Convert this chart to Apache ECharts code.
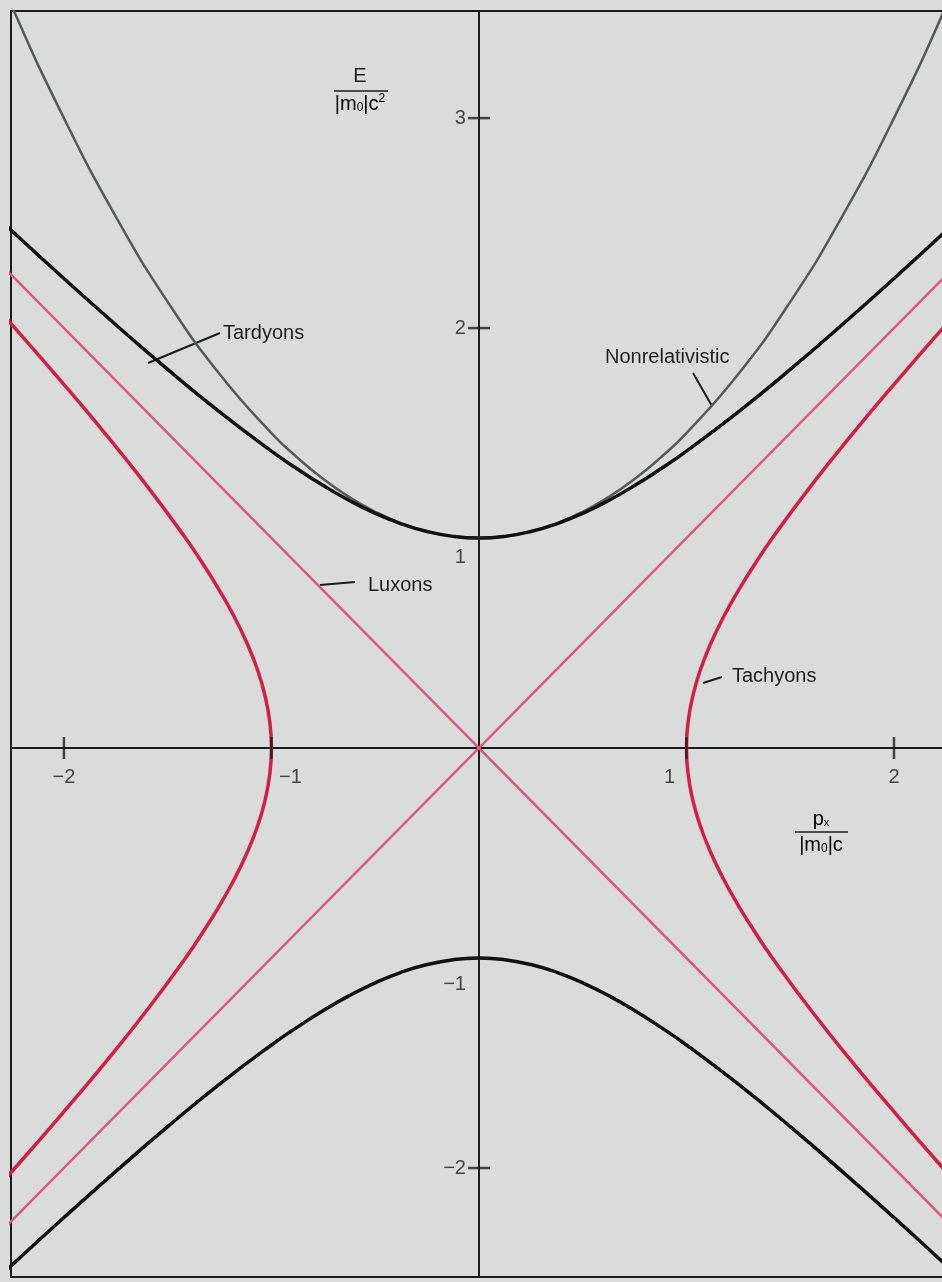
<!DOCTYPE html>
<html>
<head>
<meta charset="utf-8">
<script src="https://cdn.jsdelivr.net/npm/echarts@6/dist/echarts.min.js"></script>
<style>
  html, body { margin: 0; padding: 0; background: #d9dcdb; }
  #chart { width: 942px; height: 1282px; }
</style>
</head>
<body>
<div id="chart"></div>
<script>
// momentum grid (p / |m0|c) and energies
const pGrid = [-2.5, -2.25, -2, -1.75, -1.5, -1.25, -1, -0.875, -0.75, -0.625, -0.5, -0.375, -0.25, -0.125, 0,
  0.125, 0.25, 0.375, 0.5, 0.625, 0.75, 0.875, 1, 1.25, 1.5, 1.75, 2, 2.25, 2.5];
const tardyonUpper = [2.693, 2.462, 2.236, 2.016, 1.803, 1.601, 1.414, 1.329, 1.250, 1.179, 1.118, 1.068, 1.031, 1.008, 1.000,
  1.008, 1.031, 1.068, 1.118, 1.179, 1.250, 1.329, 1.414, 1.601, 1.803, 2.016, 2.236, 2.462, 2.693];
const tardyonLower = [-2.693, -2.462, -2.236, -2.016, -1.803, -1.601, -1.414, -1.329, -1.250, -1.179, -1.118, -1.068, -1.031, -1.008, -1.000,
  -1.008, -1.031, -1.068, -1.118, -1.179, -1.250, -1.329, -1.414, -1.601, -1.803, -2.016, -2.236, -2.462, -2.693];
const nonrelE = [4.125, 3.531, 3.000, 2.531, 2.125, 1.781, 1.500, 1.383, 1.281, 1.195, 1.125, 1.070, 1.031, 1.008, 1.000,
  1.008, 1.031, 1.070, 1.125, 1.195, 1.281, 1.383, 1.500, 1.781, 2.125, 2.531, 3.000, 3.531, 4.125];

// tachyons: energy grid and |p|
const tachyonE = [-2.5, -2.25, -2, -1.75, -1.5, -1.25, -1, -0.875, -0.75, -0.625, -0.5, -0.375, -0.25, -0.125, 0,
  0.125, 0.25, 0.375, 0.5, 0.625, 0.75, 0.875, 1, 1.25, 1.5, 1.75, 2, 2.25, 2.5];
const tachyonP = [2.693, 2.462, 2.236, 2.016, 1.803, 1.601, 1.414, 1.329, 1.250, 1.179, 1.118, 1.068, 1.031, 1.008, 1.000,
  1.008, 1.031, 1.068, 1.118, 1.179, 1.250, 1.329, 1.414, 1.601, 1.803, 2.016, 2.236, 2.462, 2.693];

// luxons
const luxonP = [-2.7, 2.7];
const luxonRising = [-2.7, 2.7];
const luxonFalling = [2.7, -2.7];

// ticks
const xTicks = [-2, -1, 1, 2];
const yTicks = [-2, -1, 1, 2, 3];

const INK = '#1c1c1c';
const FONT = '"Liberation Sans", Arial, sans-serif';

// label nudges where the curves pass over a tick
const xLabelOffset = { '-1': [19, 0], '1': [-17, 0] };
const yLabelOffset = { '1': [0, 19], '-1': [0, 26] };

function minus(v) {
  return v < 0 ? '\u2212' + Math.abs(v) : String(v);
}

const chart = echarts.init(document.getElementById('chart'));

const labelText = { fontFamily: FONT, fontSize: 20, color: INK };

chart.setOption({
  backgroundColor: '#d9dcdb',
  animation: false,
  grid: {
    left: 11, top: 11, right: -2, bottom: 5,
    outerBoundsMode: 'none', containLabel: false,
    show: true, borderColor: INK, borderWidth: 2, backgroundColor: 'transparent'
  },
  xAxis: {
    type: 'value',
    min: -2.255, max: 2.241,
    splitLine: { show: false },
    axisTick: { show: false },
    axisLabel: { show: false },
    axisLine: { onZero: true, lineStyle: { color: INK, width: 2 } }
  },
  yAxis: {
    type: 'value',
    min: -2.519, max: 3.51,
    splitLine: { show: false },
    axisTick: { show: false },
    axisLabel: { show: false },
    axisLine: { onZero: true, lineStyle: { color: INK, width: 2 } }
  },
  series: [
    {
      name: 'Nonrelativistic', type: 'line', smooth: true, showSymbol: false,
      lineStyle: { color: '#535b59', width: 2.5 },
      data: pGrid.map((p, i) => [p, nonrelE[i]])
    },
    {
      name: 'Luxons +', type: 'line', showSymbol: false,
      lineStyle: { color: '#e0577a', width: 2.5 },
      data: luxonP.map((p, i) => [p, luxonRising[i]])
    },
    {
      name: 'Luxons -', type: 'line', showSymbol: false,
      lineStyle: { color: '#e0577a', width: 2.5 },
      data: luxonP.map((p, i) => [p, luxonFalling[i]])
    },
    {
      name: 'Tachyons right', type: 'line', smooth: true, showSymbol: false,
      lineStyle: { color: '#d41f3f', width: 3.5 },
      data: tachyonE.map((e, i) => [tachyonP[i], e])
    },
    {
      name: 'Tachyons left', type: 'line', smooth: true, showSymbol: false,
      lineStyle: { color: '#d41f3f', width: 3.5 },
      data: tachyonE.map((e, i) => [-tachyonP[i], e])
    },
    {
      name: 'Tardyons upper', type: 'line', smooth: true, showSymbol: false,
      lineStyle: { color: '#111', width: 3.5 },
      data: pGrid.map((p, i) => [p, tardyonUpper[i]])
    },
    {
      name: 'Tardyons lower', type: 'line', smooth: true, showSymbol: false,
      lineStyle: { color: '#111', width: 3.5 },
      data: pGrid.map((p, i) => [p, tardyonLower[i]])
    },
    {
      name: 'x ticks', type: 'scatter', symbol: 'rect', symbolSize: [2.5, 22],
      z: 10, silent: true, itemStyle: { color: INK },
      label: {
        show: true, position: 'bottom', distance: 8, ...labelText,
        formatter: p => minus(p.value[0])
      },
      data: xTicks.map(v => ({ value: [v, 0], label: { offset: xLabelOffset[v] || [0, 0] } }))
    },
    {
      name: 'y ticks', type: 'scatter', symbol: 'rect', symbolSize: [22, 2.5],
      z: 10, silent: true, itemStyle: { color: INK },
      label: {
        show: true, position: 'left', distance: 2, ...labelText,
        formatter: p => minus(p.value[1])
      },
      data: yTicks.map(v => ({ value: [0, v], label: { offset: yLabelOffset[v] || [0, 0] } }))
    }
  ],
  graphic: [
    // annotations with leader lines
    { type: 'line', shape: { x1: 148, y1: 363, x2: 220, y2: 333 }, style: { stroke: INK, lineWidth: 2 } },
    { type: 'text', x: 223, y: 333, style: { text: 'Tardyons', font: '20px ' + FONT, fill: INK, verticalAlign: 'middle' } },
    { type: 'line', shape: { x1: 693, y1: 373, x2: 712, y2: 406 }, style: { stroke: INK, lineWidth: 2 } },
    { type: 'text', x: 605, y: 357, style: { text: 'Nonrelativistic', font: '20px ' + FONT, fill: INK, verticalAlign: 'middle' } },
    { type: 'line', shape: { x1: 320, y1: 585, x2: 355, y2: 582 }, style: { stroke: INK, lineWidth: 2 } },
    { type: 'text', x: 368, y: 585, style: { text: 'Luxons', font: '20px ' + FONT, fill: INK, verticalAlign: 'middle' } },
    { type: 'line', shape: { x1: 703, y1: 683, x2: 722, y2: 677 }, style: { stroke: INK, lineWidth: 2 } },
    { type: 'text', x: 732, y: 676, style: { text: 'Tachyons', font: '20px ' + FONT, fill: INK, verticalAlign: 'middle' } },
    // E / |m0|c^2
    { type: 'text', x: 360, y: 76, style: { text: 'E', font: '20px ' + FONT, fill: INK, align: 'center', verticalAlign: 'middle' } },
    { type: 'line', shape: { x1: 334, y1: 91, x2: 388, y2: 91 }, style: { stroke: INK, lineWidth: 1.5 } },
    { type: 'text', x: 360, y: 104, style: {
      text: '{t||m}{s|0}{t||c}{p|2}', align: 'center', verticalAlign: 'middle',
      rich: {
        t: { fontFamily: FONT, fontSize: 20, color: INK },
        s: { fontFamily: FONT, fontSize: 12, color: INK, padding: [8, 0, 0, 0] },
        p: { fontFamily: FONT, fontSize: 12, color: INK, padding: [0, 0, 10, 0] }
      }
    } },
    // p_x / |m0|c
    { type: 'text', x: 821, y: 819, style: {
      text: '{t|p}{s|x}', align: 'center', verticalAlign: 'middle',
      rich: {
        t: { fontFamily: FONT, fontSize: 20, color: INK },
        s: { fontFamily: FONT, fontSize: 11, color: INK, padding: [8, 0, 0, 0] }
      }
    } },
    { type: 'line', shape: { x1: 795, y1: 832, x2: 848, y2: 832 }, style: { stroke: INK, lineWidth: 1.5 } },
    { type: 'text', x: 821, y: 845, style: {
      text: '{t||m}{s|0}{t||c}', align: 'center', verticalAlign: 'middle',
      rich: {
        t: { fontFamily: FONT, fontSize: 20, color: INK },
        s: { fontFamily: FONT, fontSize: 12, color: INK, padding: [8, 0, 0, 0] }
      }
    } }
  ]
});
</script>
</body>
</html>
